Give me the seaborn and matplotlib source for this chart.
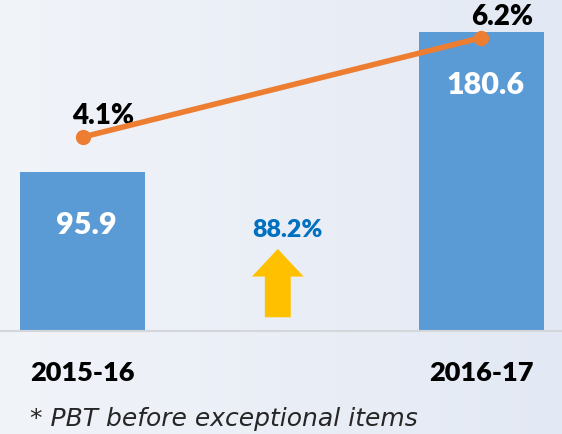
import matplotlib
matplotlib.use("Agg")
import matplotlib.pyplot as plt
import seaborn as sns
import numpy as np
import pandas as pd
from matplotlib.patches import FancyArrow
from matplotlib.colors import LinearSegmentedColormap

categories = ["2015-16", "2016-17"]
pbt_values = [95.9, 180.6]
margin_pct = [4.1, 6.2]
growth_label = "88.2%"
footnote = "* PBT before exceptional items"

sns.set_theme(style="white")
plt.rcParams['font.family'] = ['Lato', 'DejaVu Sans']

W, H = 562, 435
fig = plt.figure(figsize=(W / 100, H / 100), dpi=100)

# subtle background gradient
bg = fig.add_axes([0, 0, 1, 1], zorder=-10)
grad = np.linspace(0, 1, 256).reshape(1, -1)
cmap = LinearSegmentedColormap.from_list("bg", ["#F1F4F9", "#E3E9F4"])
bg.imshow(grad, aspect="auto", cmap=cmap, extent=[0, 1, 0, 1])
bg.axis("off")

ax = fig.add_axes([0, 103 / H, 1, 332 / H])
ax.patch.set_alpha(0)

df = pd.DataFrame({"year": categories, "pbt": pbt_values})
sns.barplot(data=df, x="year", y="pbt", color="#5B9BD5", saturation=1,
            width=0.314, ax=ax, zorder=2, linewidth=0, edgecolor="none")
ax.set_xlim(-0.207, 1.203)
ax.set_ylim(0, 200.7)
ax.axhline(0, color="#D4D6DA", lw=1.5, clip_on=False, zorder=3)
for s in ax.spines.values():
    s.set_visible(False)
ax.set_yticks([])
ax.set_xlabel("")
ax.set_ylabel("")
ax.tick_params(axis="x", length=0, pad=21)
for lbl in ax.get_xticklabels():
    lbl.set_fontweight("heavy")
    lbl.set_fontsize(19.5)
    lbl.set_color("black")

for i, v in enumerate(pbt_values):
    ax.text(i + 0.01, v - 31, f"{v:.1f}", ha="center", va="center", color="white",
            fontsize=22, fontweight="heavy", zorder=4)

# growth arrow and label
ax.add_patch(FancyArrow(0.49, 8.3, 0, 41.3, width=0.065, head_width=0.13,
                        head_length=16.7, length_includes_head=True,
                        color="#FFC000", lw=0, zorder=3))
ax.text(0.513, 61.7, growth_label, ha="center", va="center", color="#0070C0",
        fontsize=18, fontweight="heavy")

# margin line on secondary axis
ax2 = ax.twinx()
ax2.set_ylim(0, 7.02)
ax2.set_yticks([])
for s in ax2.spines.values():
    s.set_visible(False)
sns.lineplot(x=[0, 1], y=margin_pct, ax=ax2, color="#ED7D31", lw=4,
             marker="o", markersize=11, markeredgewidth=0, zorder=5)
ax2.set_xlim(-0.207, 1.203)
for i, v in enumerate(margin_pct):
    ax2.annotate(f"{v:.1f}%", (i, v), xytext=(15, 16), textcoords="offset points",
                 ha="center", va="center", fontsize=20, fontweight="heavy",
                 color="black")

fig.text(30 / W, (H - 419) / H, footnote, ha="left", va="center",
         fontsize=18, style="italic", color="#262626",
         family=["DejaVu Sans"])

fig.savefig("out.png", dpi=100)
